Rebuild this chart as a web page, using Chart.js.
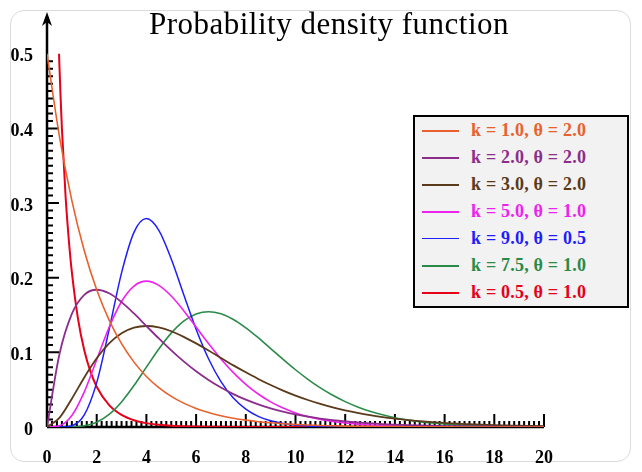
<!DOCTYPE html>
<html>
<head>
<meta charset="utf-8">
<title>Probability density function</title>
<script src="https://cdn.jsdelivr.net/npm/chart.js@4.4.1/dist/chart.umd.min.js"></script>
<style>
    html, body { margin: 0; padding: 0; background: #fff; }
    #wrap { position: relative; width: 642px; height: 472px; overflow: hidden; }
    #frame {
        position: absolute; left: 10px; top: 10px; width: 621px; height: 452px;
        border: 1px solid #dcdcdc; border-radius: 14px; box-sizing: border-box;
    }
    #chart { position: absolute; left: 0; top: 0; }
    #title {
        position: absolute; left: 0; width: 658px; top: 8px; text-align: center;
        font: 31px/31px "Liberation Serif", serif; letter-spacing: 0.5px; color: #000;
        white-space: nowrap;
    }
    #legend {
        position: absolute; left: 413px; top: 115px; width: 216px; height: 193px;
        box-sizing: border-box; border: 2px solid #000; background: #f2f2f2;
    }
    #legend .row { display: flex; align-items: center; height: 27px; }
    #legend .swatch { margin-left: 7px; width: 37px; height: 2px; }
    #legend .label {
        margin-left: 12px; font: bold 18px "Liberation Serif", serif; white-space: nowrap;
        letter-spacing: 0.2px;
    }
</style>
</head>
<body>
<div id="wrap">
    <div id="frame"></div>
    <canvas id="chart" width="642" height="472"></canvas>
    <div id="title">Probability density function</div>
    <div id="legend"></div>
</div>
<script>
// x positions shared by most curves
var xs = [0, 0.5, 1, 1.5, 2, 2.5, 3, 3.5, 4, 4.5, 5, 5.5, 6, 6.5, 7, 7.5, 8, 8.5, 9, 9.5, 10,
    10.5, 11, 11.5, 12, 12.5, 13, 13.5, 14, 14.5, 15, 15.5, 16, 16.5, 17, 17.5, 18, 18.5, 19, 19.5, 20];

// k = 1.0, theta = 2.0
var k1t2 = [0.5000, 0.3894, 0.3033, 0.2362, 0.1839, 0.1433, 0.1116, 0.0869, 0.0677, 0.0527, 0.0410,
    0.0320, 0.0249, 0.0194, 0.0151, 0.0118, 0.0092, 0.0071, 0.0056, 0.0043, 0.0034,
    0.0026, 0.0020, 0.0016, 0.0012, 0.0010, 0.0008, 0.0006, 0.0005, 0.0004, 0.0003,
    0.0002, 0.0002, 0.0001, 0.0001, 0.0001, 0.0001, 0, 0, 0, 0];
// k = 2.0, theta = 2.0
var k2t2 = [0, 0.0974, 0.1516, 0.1771, 0.1839, 0.1791, 0.1673, 0.1521, 0.1353, 0.1186, 0.1026,
    0.0879, 0.0747, 0.0631, 0.0529, 0.0441, 0.0366, 0.0303, 0.0250, 0.0205, 0.0168,
    0.0138, 0.0112, 0.0091, 0.0074, 0.0060, 0.0049, 0.0039, 0.0032, 0.0026, 0.0021,
    0.0017, 0.0013, 0.0011, 0.0009, 0.0007, 0.0006, 0.0004, 0.0004, 0.0003, 0.0002];
// k = 3.0, theta = 2.0
var k3t2 = [0, 0.0122, 0.0379, 0.0664, 0.0920, 0.1119, 0.1255, 0.1331, 0.1353, 0.1334, 0.1283,
    0.1208, 0.1120, 0.1025, 0.0925, 0.0826, 0.0733, 0.0644, 0.0562, 0.0488, 0.0421,
    0.0362, 0.0309, 0.0263, 0.0223, 0.0188, 0.0158, 0.0133, 0.0112, 0.0093, 0.0078,
    0.0065, 0.0054, 0.0044, 0.0037, 0.0030, 0.0025, 0.0021, 0.0017, 0.0014, 0.0011];
// k = 5.0, theta = 1.0
var k5t1 = [0, 0.0016, 0.0153, 0.0471, 0.0902, 0.1336, 0.1681, 0.1888, 0.1954, 0.1898, 0.1755,
    0.1559, 0.1339, 0.1118, 0.0912, 0.0729, 0.0572, 0.0442, 0.0337, 0.0254, 0.0189,
    0.0139, 0.0102, 0.0074, 0.0053, 0.0038, 0.0027, 0.0019, 0.0013, 0.0009, 0.0006,
    0.0004, 0.0003, 0.0002, 0.0001, 0.0001, 0.0001, 0, 0, 0, 0];
// k = 9.0, theta = 0.5
var k9t05 = [0, 0, 0.0017, 0.0162, 0.0595, 0.1306, 0.2065, 0.2608, 0.2792, 0.2635, 0.2252,
    0.1776, 0.1310, 0.0915, 0.0609, 0.0389, 0.0240, 0.0143, 0.0083, 0.0047, 0.0026,
    0.0014, 0.0008, 0.0004, 0.0002, 0.0001, 0, 0, 0, 0, 0,
    0, 0, 0, 0, 0, 0, 0, 0, 0, 0];
// k = 7.5, theta = 1.0
var k75t1 = [0, 0, 0.0002, 0.0017, 0.0065, 0.0169, 0.0336, 0.0555, 0.0802, 0.1046, 0.1258,
    0.1418, 0.1514, 0.1545, 0.1517, 0.1441, 0.1329, 0.1196, 0.1051, 0.0906, 0.0767,
    0.0639, 0.0524, 0.0425, 0.0340, 0.0269, 0.0210, 0.0163, 0.0125, 0.0095, 0.0072,
    0.0054, 0.0040, 0.0030, 0.0022, 0.0016, 0.0012, 0.0009, 0.0006, 0.0004, 0.0003];
// k = 0.5, theta = 1.0 (cut off at the top of the axis)
var xsRed = [0.484, 0.54, 0.6, 0.75, 0.9, 1, 1.25, 1.5, 1.75, 2, 2.5, 3, 3.5, 4, 4.5, 5, 6, 7, 8, 9, 10, 12, 14, 16, 18, 20];
var k05t1 = [0.5000, 0.4474, 0.3997, 0.3078, 0.2418, 0.2076, 0.1446, 0.1028, 0.0741, 0.0540, 0.0293,
    0.0162, 0.0091, 0.0052, 0.0030, 0.0017, 0.0006, 0.0002, 0.0001, 0, 0, 0, 0, 0, 0, 0];

var xTicks = [0, 2, 4, 6, 8, 10, 12, 14, 16, 18, 20];
var yTicks = [0, 0.1, 0.2, 0.3, 0.4, 0.5];

var labels = ['k = 1.0, \u03b8 = 2.0', 'k = 2.0, \u03b8 = 2.0', 'k = 3.0, \u03b8 = 2.0', 'k = 5.0, \u03b8 = 1.0',
    'k = 9.0, \u03b8 = 0.5', 'k = 7.5, \u03b8 = 1.0', 'k = 0.5, \u03b8 = 1.0'];
var colors = ['#e8612c', '#8c2d8c', '#5a3a1a', '#ee22ee', '#1e1efa', '#2a8b48', '#e6001a'];
var widths = [1.6, 1.8, 1.8, 1.6, 1.5, 1.6, 2];
var swatchWidths = [2, 2, 2, 2, 1, 2, 2];

function pairs(px, py) {
    return px.map(function(v, i) { return { x: v, y: py[i] }; });
}

var seriesData = [
    pairs(xs, k1t2), pairs(xs, k2t2), pairs(xs, k3t2), pairs(xs, k5t1),
    pairs(xs, k9t05), pairs(xs, k75t1), pairs(xsRed, k05t1)
];

var tickFont = { family: '"Liberation Serif", serif', size: 18, weight: 'bold' };

// axis lines, arrow and tick marks drawn under the curves
var axesPlugin = {
    id: 'axes',
    beforeDatasetsDraw: function(chart) {
        var ctx = chart.ctx;
        var x = chart.scales.x, y = chart.scales.y;
        var x0 = x.getPixelForValue(0), y0 = y.getPixelForValue(0);
        ctx.save();
        ctx.strokeStyle = '#000';
        ctx.fillStyle = '#000';
        ctx.lineWidth = 2;
        ctx.beginPath();
        for (var i = 0; i < 50; i++) {
            var py = y.getPixelForValue(i / 100);
            var len = i % 10 === 0 ? 12 : 6;
            ctx.moveTo(x0, py);
            ctx.lineTo(x0 + len, py);
        }
        for (var j = 0; j <= 100; j++) {
            var px = x.getPixelForValue(j / 5);
            var h = j % 10 === 0 ? 13 : 6;
            ctx.moveTo(px, y0);
            ctx.lineTo(px, y0 - h);
        }
        ctx.stroke();

        ctx.lineWidth = 2.5;
        ctx.beginPath();
        ctx.moveTo(x0, y0);
        ctx.lineTo(x.getPixelForValue(20), y0);
        ctx.moveTo(x0, y0);
        ctx.lineTo(x0, chart.chartArea.top + 6);
        ctx.stroke();

        var top = chart.chartArea.top;
        ctx.beginPath();
        ctx.moveTo(x0, top);
        ctx.lineTo(x0 - 5, top + 14);
        ctx.lineTo(x0, top + 10);
        ctx.lineTo(x0 + 5, top + 14);
        ctx.closePath();
        ctx.fill();
        ctx.restore();
    }
};

var chart = new Chart(document.getElementById('chart'), {
    type: 'line',
    data: {
        datasets: seriesData.map(function(d, i) {
            return {
                label: labels[i],
                data: d,
                borderColor: colors[i],
                backgroundColor: colors[i],
                borderWidth: widths[i],
                pointRadius: 0,
                fill: false,
                cubicInterpolationMode: 'monotone'
            };
        })
    },
    options: {
        responsive: false,
        animation: false,
        devicePixelRatio: 1,
        layout: { padding: { left: 0, right: 98, top: 12, bottom: 0 } },
        plugins: {
            legend: { display: false },
            title: { display: false },
            tooltip: { enabled: false }
        },
        scales: {
            x: {
                type: 'linear',
                min: 0,
                max: 20,
                grid: { display: false, drawTicks: false },
                border: { display: false },
                afterBuildTicks: function(s) {
                    s.ticks = xTicks.map(function(v) { return { value: v }; });
                },
                ticks: { padding: 21, color: '#000', font: tickFont, maxRotation: 0, autoSkip: false },
                afterFit: function(s) { s.height = 45; }
            },
            y: {
                type: 'linear',
                min: 0,
                max: 0.556,
                grid: { display: false, drawTicks: false },
                border: { display: false },
                afterBuildTicks: function(s) {
                    s.ticks = yTicks.map(function(v) { return { value: v }; });
                },
                ticks: { padding: 14, labelOffset: 3, color: '#000', font: tickFont },
                afterFit: function(s) {
                    s.width = 47;
                    s.paddingTop = 0;
                    s.paddingBottom = 0;
                }
            }
        }
    },
    plugins: [axesPlugin]
});

// html legend built from the datasets
var legendBox = document.getElementById('legend');
chart.data.datasets.forEach(function(ds, i) {
    var row = document.createElement('div');
    row.className = 'row';
    var sw = document.createElement('span');
    sw.className = 'swatch';
    sw.style.background = ds.borderColor;
    sw.style.height = swatchWidths[i] + 'px';
    var lb = document.createElement('span');
    lb.className = 'label';
    lb.style.color = ds.borderColor;
    lb.textContent = ds.label;
    row.appendChild(sw);
    row.appendChild(lb);
    legendBox.appendChild(row);
});
</script>
</body>
</html>
